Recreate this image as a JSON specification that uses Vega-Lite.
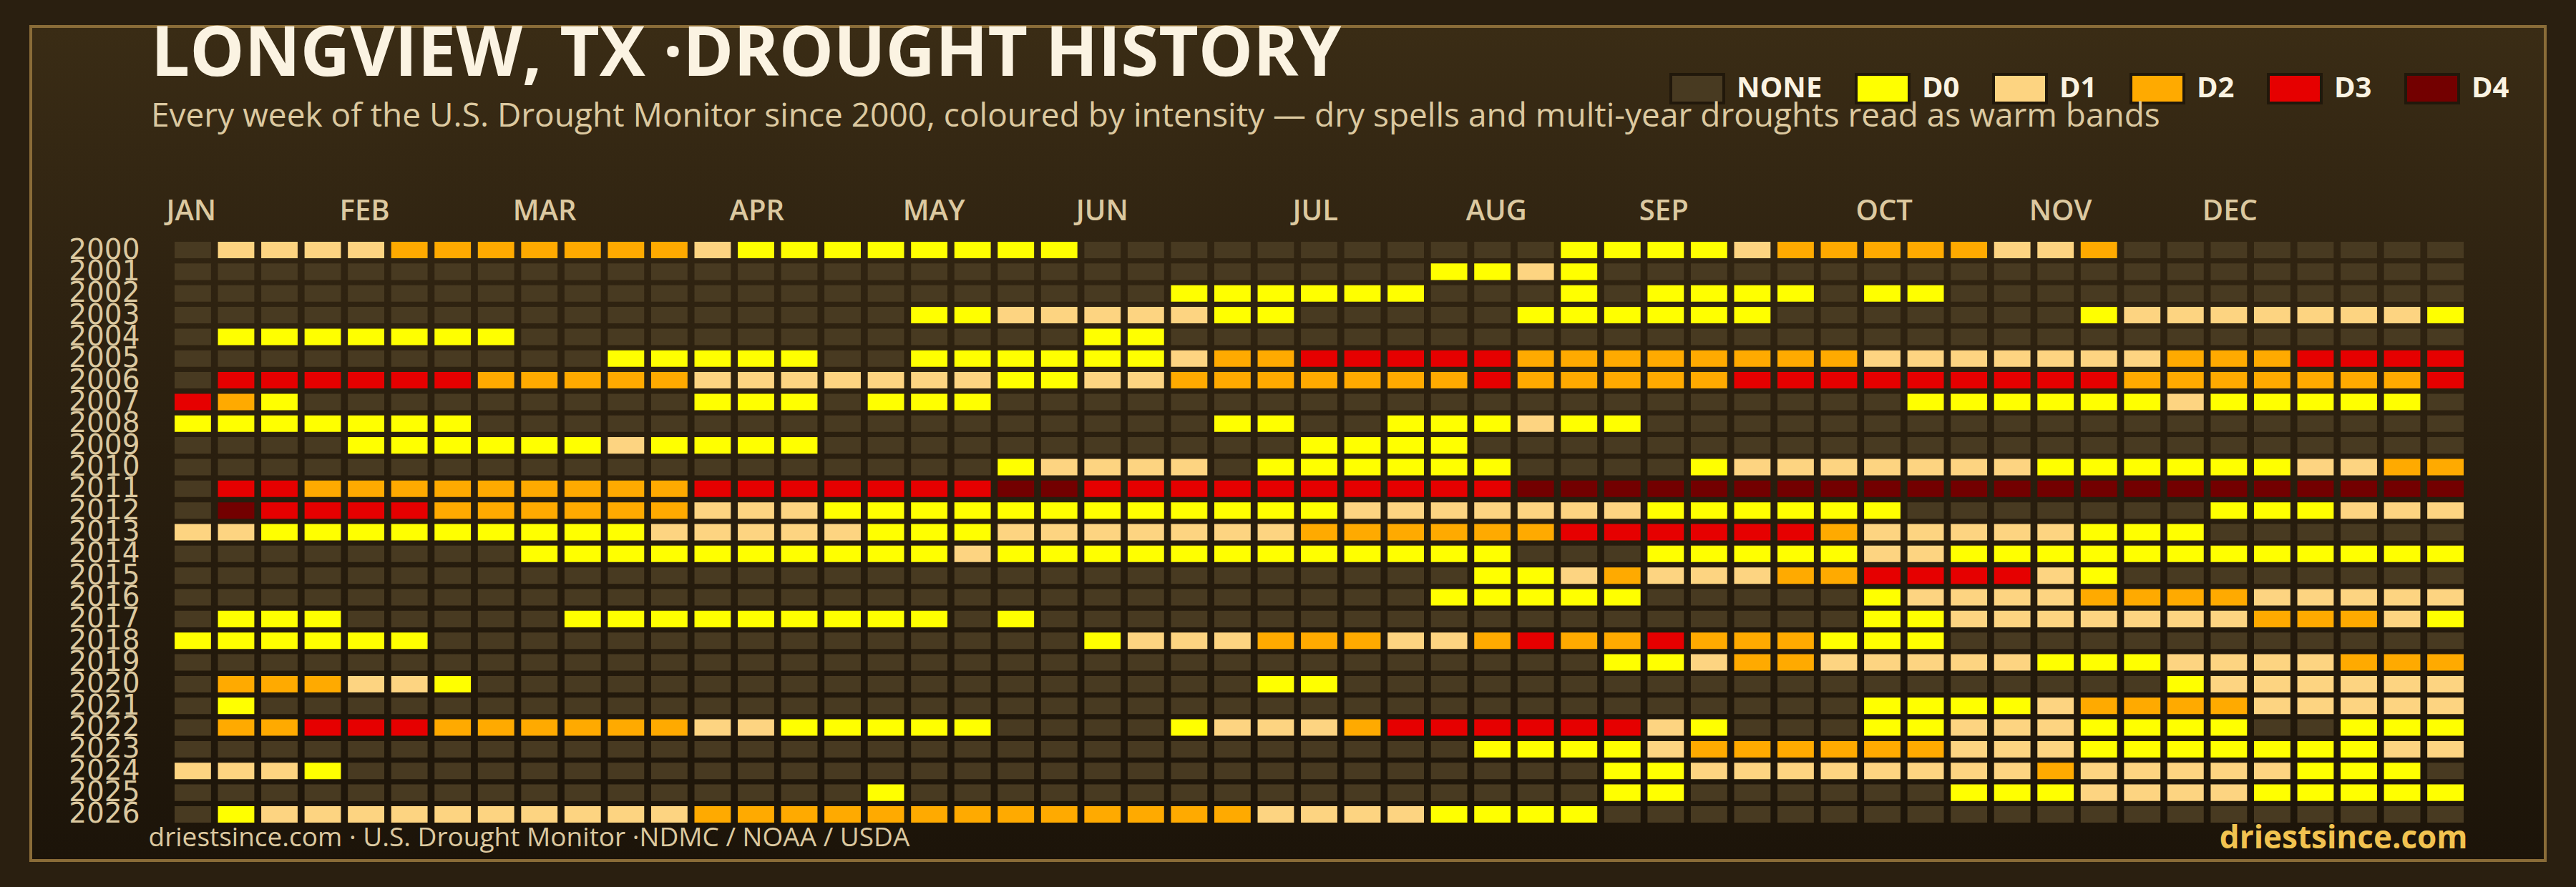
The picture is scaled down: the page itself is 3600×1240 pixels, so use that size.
{
"$schema": "https://vega.github.io/schema/vega-lite/v6.json",
"width": 3514,
"height": 1166,
"autosize": {"type": "none"},
"padding": {"left": 43, "top": 37, "right": 43, "bottom": 37},
"background": "#2a1f10",
"view": {"fill": {"gradient": "linear", "x1": 0, "y1": 0, "x2": 0, "y2": 1, "stops": [{"offset": 0, "color": "#3a2c15"}, {"offset": 0.3, "color": "#2f2311"}, {"offset": 1, "color": "#1c1409"}]}, "stroke": "#8a6c38", "strokeWidth": 4},
"title": {"text": "LONGVIEW, TX ·DROUGHT HISTORY", "subtitle": "Every week of the U.S. Drought Monitor since 2000, coloured by intensity — dry spells and multi-year droughts read as warm bands", "anchor": "start", "frame": "group", "orient": "top", "offset": -150, "dx": 168, "font": "Open Sans", "fontSize": 96, "fontWeight": "bold", "color": "#fbf3e2", "subtitleFont": "Open Sans", "subtitleFontSize": 46, "subtitleFontWeight": 500, "subtitleColor": "#dcc9a0", "subtitlePadding": 15},
"data": {"values": [
{"y":2000,"w":0,"d":"NONE"},{"y":2000,"w":1,"d":"D1"},{"y":2000,"w":2,"d":"D1"},{"y":2000,"w":3,"d":"D1"},{"y":2000,"w":4,"d":"D1"},{"y":2000,"w":5,"d":"D2"},{"y":2000,"w":6,"d":"D2"},{"y":2000,"w":7,"d":"D2"},{"y":2000,"w":8,"d":"D2"},{"y":2000,"w":9,"d":"D2"},{"y":2000,"w":10,"d":"D2"},{"y":2000,"w":11,"d":"D2"},{"y":2000,"w":12,"d":"D1"},{"y":2000,"w":13,"d":"D0"},{"y":2000,"w":14,"d":"D0"},{"y":2000,"w":15,"d":"D0"},{"y":2000,"w":16,"d":"D0"},{"y":2000,"w":17,"d":"D0"},{"y":2000,"w":18,"d":"D0"},{"y":2000,"w":19,"d":"D0"},{"y":2000,"w":20,"d":"D0"},{"y":2000,"w":21,"d":"NONE"},{"y":2000,"w":22,"d":"NONE"},{"y":2000,"w":23,"d":"NONE"},{"y":2000,"w":24,"d":"NONE"},{"y":2000,"w":25,"d":"NONE"},{"y":2000,"w":26,"d":"NONE"},{"y":2000,"w":27,"d":"NONE"},{"y":2000,"w":28,"d":"NONE"},{"y":2000,"w":29,"d":"NONE"},{"y":2000,"w":30,"d":"NONE"},{"y":2000,"w":31,"d":"NONE"},{"y":2000,"w":32,"d":"D0"},{"y":2000,"w":33,"d":"D0"},{"y":2000,"w":34,"d":"D0"},{"y":2000,"w":35,"d":"D0"},{"y":2000,"w":36,"d":"D1"},{"y":2000,"w":37,"d":"D2"},{"y":2000,"w":38,"d":"D2"},{"y":2000,"w":39,"d":"D2"},{"y":2000,"w":40,"d":"D2"},{"y":2000,"w":41,"d":"D2"},{"y":2000,"w":42,"d":"D1"},{"y":2000,"w":43,"d":"D1"},{"y":2000,"w":44,"d":"D2"},{"y":2000,"w":45,"d":"NONE"},{"y":2000,"w":46,"d":"NONE"},{"y":2000,"w":47,"d":"NONE"},{"y":2000,"w":48,"d":"NONE"},{"y":2000,"w":49,"d":"NONE"},{"y":2000,"w":50,"d":"NONE"},{"y":2000,"w":51,"d":"NONE"},{"y":2000,"w":52,"d":"NONE"},
{"y":2001,"w":0,"d":"NONE"},{"y":2001,"w":1,"d":"NONE"},{"y":2001,"w":2,"d":"NONE"},{"y":2001,"w":3,"d":"NONE"},{"y":2001,"w":4,"d":"NONE"},{"y":2001,"w":5,"d":"NONE"},{"y":2001,"w":6,"d":"NONE"},{"y":2001,"w":7,"d":"NONE"},{"y":2001,"w":8,"d":"NONE"},{"y":2001,"w":9,"d":"NONE"},{"y":2001,"w":10,"d":"NONE"},{"y":2001,"w":11,"d":"NONE"},{"y":2001,"w":12,"d":"NONE"},{"y":2001,"w":13,"d":"NONE"},{"y":2001,"w":14,"d":"NONE"},{"y":2001,"w":15,"d":"NONE"},{"y":2001,"w":16,"d":"NONE"},{"y":2001,"w":17,"d":"NONE"},{"y":2001,"w":18,"d":"NONE"},{"y":2001,"w":19,"d":"NONE"},{"y":2001,"w":20,"d":"NONE"},{"y":2001,"w":21,"d":"NONE"},{"y":2001,"w":22,"d":"NONE"},{"y":2001,"w":23,"d":"NONE"},{"y":2001,"w":24,"d":"NONE"},{"y":2001,"w":25,"d":"NONE"},{"y":2001,"w":26,"d":"NONE"},{"y":2001,"w":27,"d":"NONE"},{"y":2001,"w":28,"d":"NONE"},{"y":2001,"w":29,"d":"D0"},{"y":2001,"w":30,"d":"D0"},{"y":2001,"w":31,"d":"D1"},{"y":2001,"w":32,"d":"D0"},{"y":2001,"w":33,"d":"NONE"},{"y":2001,"w":34,"d":"NONE"},{"y":2001,"w":35,"d":"NONE"},{"y":2001,"w":36,"d":"NONE"},{"y":2001,"w":37,"d":"NONE"},{"y":2001,"w":38,"d":"NONE"},{"y":2001,"w":39,"d":"NONE"},{"y":2001,"w":40,"d":"NONE"},{"y":2001,"w":41,"d":"NONE"},{"y":2001,"w":42,"d":"NONE"},{"y":2001,"w":43,"d":"NONE"},{"y":2001,"w":44,"d":"NONE"},{"y":2001,"w":45,"d":"NONE"},{"y":2001,"w":46,"d":"NONE"},{"y":2001,"w":47,"d":"NONE"},{"y":2001,"w":48,"d":"NONE"},{"y":2001,"w":49,"d":"NONE"},{"y":2001,"w":50,"d":"NONE"},{"y":2001,"w":51,"d":"NONE"},{"y":2001,"w":52,"d":"NONE"},
{"y":2002,"w":0,"d":"NONE"},{"y":2002,"w":1,"d":"NONE"},{"y":2002,"w":2,"d":"NONE"},{"y":2002,"w":3,"d":"NONE"},{"y":2002,"w":4,"d":"NONE"},{"y":2002,"w":5,"d":"NONE"},{"y":2002,"w":6,"d":"NONE"},{"y":2002,"w":7,"d":"NONE"},{"y":2002,"w":8,"d":"NONE"},{"y":2002,"w":9,"d":"NONE"},{"y":2002,"w":10,"d":"NONE"},{"y":2002,"w":11,"d":"NONE"},{"y":2002,"w":12,"d":"NONE"},{"y":2002,"w":13,"d":"NONE"},{"y":2002,"w":14,"d":"NONE"},{"y":2002,"w":15,"d":"NONE"},{"y":2002,"w":16,"d":"NONE"},{"y":2002,"w":17,"d":"NONE"},{"y":2002,"w":18,"d":"NONE"},{"y":2002,"w":19,"d":"NONE"},{"y":2002,"w":20,"d":"NONE"},{"y":2002,"w":21,"d":"NONE"},{"y":2002,"w":22,"d":"NONE"},{"y":2002,"w":23,"d":"D0"},{"y":2002,"w":24,"d":"D0"},{"y":2002,"w":25,"d":"D0"},{"y":2002,"w":26,"d":"D0"},{"y":2002,"w":27,"d":"D0"},{"y":2002,"w":28,"d":"D0"},{"y":2002,"w":29,"d":"NONE"},{"y":2002,"w":30,"d":"NONE"},{"y":2002,"w":31,"d":"NONE"},{"y":2002,"w":32,"d":"D0"},{"y":2002,"w":33,"d":"NONE"},{"y":2002,"w":34,"d":"D0"},{"y":2002,"w":35,"d":"D0"},{"y":2002,"w":36,"d":"D0"},{"y":2002,"w":37,"d":"D0"},{"y":2002,"w":38,"d":"NONE"},{"y":2002,"w":39,"d":"D0"},{"y":2002,"w":40,"d":"D0"},{"y":2002,"w":41,"d":"NONE"},{"y":2002,"w":42,"d":"NONE"},{"y":2002,"w":43,"d":"NONE"},{"y":2002,"w":44,"d":"NONE"},{"y":2002,"w":45,"d":"NONE"},{"y":2002,"w":46,"d":"NONE"},{"y":2002,"w":47,"d":"NONE"},{"y":2002,"w":48,"d":"NONE"},{"y":2002,"w":49,"d":"NONE"},{"y":2002,"w":50,"d":"NONE"},{"y":2002,"w":51,"d":"NONE"},{"y":2002,"w":52,"d":"NONE"},
{"y":2003,"w":0,"d":"NONE"},{"y":2003,"w":1,"d":"NONE"},{"y":2003,"w":2,"d":"NONE"},{"y":2003,"w":3,"d":"NONE"},{"y":2003,"w":4,"d":"NONE"},{"y":2003,"w":5,"d":"NONE"},{"y":2003,"w":6,"d":"NONE"},{"y":2003,"w":7,"d":"NONE"},{"y":2003,"w":8,"d":"NONE"},{"y":2003,"w":9,"d":"NONE"},{"y":2003,"w":10,"d":"NONE"},{"y":2003,"w":11,"d":"NONE"},{"y":2003,"w":12,"d":"NONE"},{"y":2003,"w":13,"d":"NONE"},{"y":2003,"w":14,"d":"NONE"},{"y":2003,"w":15,"d":"NONE"},{"y":2003,"w":16,"d":"NONE"},{"y":2003,"w":17,"d":"D0"},{"y":2003,"w":18,"d":"D0"},{"y":2003,"w":19,"d":"D1"},{"y":2003,"w":20,"d":"D1"},{"y":2003,"w":21,"d":"D1"},{"y":2003,"w":22,"d":"D1"},{"y":2003,"w":23,"d":"D1"},{"y":2003,"w":24,"d":"D0"},{"y":2003,"w":25,"d":"D0"},{"y":2003,"w":26,"d":"NONE"},{"y":2003,"w":27,"d":"NONE"},{"y":2003,"w":28,"d":"NONE"},{"y":2003,"w":29,"d":"NONE"},{"y":2003,"w":30,"d":"NONE"},{"y":2003,"w":31,"d":"D0"},{"y":2003,"w":32,"d":"D0"},{"y":2003,"w":33,"d":"D0"},{"y":2003,"w":34,"d":"D0"},{"y":2003,"w":35,"d":"D0"},{"y":2003,"w":36,"d":"D0"},{"y":2003,"w":37,"d":"NONE"},{"y":2003,"w":38,"d":"NONE"},{"y":2003,"w":39,"d":"NONE"},{"y":2003,"w":40,"d":"NONE"},{"y":2003,"w":41,"d":"NONE"},{"y":2003,"w":42,"d":"NONE"},{"y":2003,"w":43,"d":"NONE"},{"y":2003,"w":44,"d":"D0"},{"y":2003,"w":45,"d":"D1"},{"y":2003,"w":46,"d":"D1"},{"y":2003,"w":47,"d":"D1"},{"y":2003,"w":48,"d":"D1"},{"y":2003,"w":49,"d":"D1"},{"y":2003,"w":50,"d":"D1"},{"y":2003,"w":51,"d":"D1"},{"y":2003,"w":52,"d":"D0"},
{"y":2004,"w":0,"d":"NONE"},{"y":2004,"w":1,"d":"D0"},{"y":2004,"w":2,"d":"D0"},{"y":2004,"w":3,"d":"D0"},{"y":2004,"w":4,"d":"D0"},{"y":2004,"w":5,"d":"D0"},{"y":2004,"w":6,"d":"D0"},{"y":2004,"w":7,"d":"D0"},{"y":2004,"w":8,"d":"NONE"},{"y":2004,"w":9,"d":"NONE"},{"y":2004,"w":10,"d":"NONE"},{"y":2004,"w":11,"d":"NONE"},{"y":2004,"w":12,"d":"NONE"},{"y":2004,"w":13,"d":"NONE"},{"y":2004,"w":14,"d":"NONE"},{"y":2004,"w":15,"d":"NONE"},{"y":2004,"w":16,"d":"NONE"},{"y":2004,"w":17,"d":"NONE"},{"y":2004,"w":18,"d":"NONE"},{"y":2004,"w":19,"d":"NONE"},{"y":2004,"w":20,"d":"NONE"},{"y":2004,"w":21,"d":"D0"},{"y":2004,"w":22,"d":"D0"},{"y":2004,"w":23,"d":"NONE"},{"y":2004,"w":24,"d":"NONE"},{"y":2004,"w":25,"d":"NONE"},{"y":2004,"w":26,"d":"NONE"},{"y":2004,"w":27,"d":"NONE"},{"y":2004,"w":28,"d":"NONE"},{"y":2004,"w":29,"d":"NONE"},{"y":2004,"w":30,"d":"NONE"},{"y":2004,"w":31,"d":"NONE"},{"y":2004,"w":32,"d":"NONE"},{"y":2004,"w":33,"d":"NONE"},{"y":2004,"w":34,"d":"NONE"},{"y":2004,"w":35,"d":"NONE"},{"y":2004,"w":36,"d":"NONE"},{"y":2004,"w":37,"d":"NONE"},{"y":2004,"w":38,"d":"NONE"},{"y":2004,"w":39,"d":"NONE"},{"y":2004,"w":40,"d":"NONE"},{"y":2004,"w":41,"d":"NONE"},{"y":2004,"w":42,"d":"NONE"},{"y":2004,"w":43,"d":"NONE"},{"y":2004,"w":44,"d":"NONE"},{"y":2004,"w":45,"d":"NONE"},{"y":2004,"w":46,"d":"NONE"},{"y":2004,"w":47,"d":"NONE"},{"y":2004,"w":48,"d":"NONE"},{"y":2004,"w":49,"d":"NONE"},{"y":2004,"w":50,"d":"NONE"},{"y":2004,"w":51,"d":"NONE"},{"y":2004,"w":52,"d":"NONE"},
{"y":2005,"w":0,"d":"NONE"},{"y":2005,"w":1,"d":"NONE"},{"y":2005,"w":2,"d":"NONE"},{"y":2005,"w":3,"d":"NONE"},{"y":2005,"w":4,"d":"NONE"},{"y":2005,"w":5,"d":"NONE"},{"y":2005,"w":6,"d":"NONE"},{"y":2005,"w":7,"d":"NONE"},{"y":2005,"w":8,"d":"NONE"},{"y":2005,"w":9,"d":"NONE"},{"y":2005,"w":10,"d":"D0"},{"y":2005,"w":11,"d":"D0"},{"y":2005,"w":12,"d":"D0"},{"y":2005,"w":13,"d":"D0"},{"y":2005,"w":14,"d":"D0"},{"y":2005,"w":15,"d":"NONE"},{"y":2005,"w":16,"d":"NONE"},{"y":2005,"w":17,"d":"D0"},{"y":2005,"w":18,"d":"D0"},{"y":2005,"w":19,"d":"D0"},{"y":2005,"w":20,"d":"D0"},{"y":2005,"w":21,"d":"D0"},{"y":2005,"w":22,"d":"D0"},{"y":2005,"w":23,"d":"D1"},{"y":2005,"w":24,"d":"D2"},{"y":2005,"w":25,"d":"D2"},{"y":2005,"w":26,"d":"D3"},{"y":2005,"w":27,"d":"D3"},{"y":2005,"w":28,"d":"D3"},{"y":2005,"w":29,"d":"D3"},{"y":2005,"w":30,"d":"D3"},{"y":2005,"w":31,"d":"D2"},{"y":2005,"w":32,"d":"D2"},{"y":2005,"w":33,"d":"D2"},{"y":2005,"w":34,"d":"D2"},{"y":2005,"w":35,"d":"D2"},{"y":2005,"w":36,"d":"D2"},{"y":2005,"w":37,"d":"D2"},{"y":2005,"w":38,"d":"D2"},{"y":2005,"w":39,"d":"D1"},{"y":2005,"w":40,"d":"D1"},{"y":2005,"w":41,"d":"D1"},{"y":2005,"w":42,"d":"D1"},{"y":2005,"w":43,"d":"D1"},{"y":2005,"w":44,"d":"D1"},{"y":2005,"w":45,"d":"D1"},{"y":2005,"w":46,"d":"D2"},{"y":2005,"w":47,"d":"D2"},{"y":2005,"w":48,"d":"D2"},{"y":2005,"w":49,"d":"D3"},{"y":2005,"w":50,"d":"D3"},{"y":2005,"w":51,"d":"D3"},{"y":2005,"w":52,"d":"D3"},
{"y":2006,"w":0,"d":"NONE"},{"y":2006,"w":1,"d":"D3"},{"y":2006,"w":2,"d":"D3"},{"y":2006,"w":3,"d":"D3"},{"y":2006,"w":4,"d":"D3"},{"y":2006,"w":5,"d":"D3"},{"y":2006,"w":6,"d":"D3"},{"y":2006,"w":7,"d":"D2"},{"y":2006,"w":8,"d":"D2"},{"y":2006,"w":9,"d":"D2"},{"y":2006,"w":10,"d":"D2"},{"y":2006,"w":11,"d":"D2"},{"y":2006,"w":12,"d":"D1"},{"y":2006,"w":13,"d":"D1"},{"y":2006,"w":14,"d":"D1"},{"y":2006,"w":15,"d":"D1"},{"y":2006,"w":16,"d":"D1"},{"y":2006,"w":17,"d":"D1"},{"y":2006,"w":18,"d":"D1"},{"y":2006,"w":19,"d":"D0"},{"y":2006,"w":20,"d":"D0"},{"y":2006,"w":21,"d":"D1"},{"y":2006,"w":22,"d":"D1"},{"y":2006,"w":23,"d":"D2"},{"y":2006,"w":24,"d":"D2"},{"y":2006,"w":25,"d":"D2"},{"y":2006,"w":26,"d":"D2"},{"y":2006,"w":27,"d":"D2"},{"y":2006,"w":28,"d":"D2"},{"y":2006,"w":29,"d":"D2"},{"y":2006,"w":30,"d":"D3"},{"y":2006,"w":31,"d":"D2"},{"y":2006,"w":32,"d":"D2"},{"y":2006,"w":33,"d":"D2"},{"y":2006,"w":34,"d":"D2"},{"y":2006,"w":35,"d":"D2"},{"y":2006,"w":36,"d":"D3"},{"y":2006,"w":37,"d":"D3"},{"y":2006,"w":38,"d":"D3"},{"y":2006,"w":39,"d":"D3"},{"y":2006,"w":40,"d":"D3"},{"y":2006,"w":41,"d":"D3"},{"y":2006,"w":42,"d":"D3"},{"y":2006,"w":43,"d":"D3"},{"y":2006,"w":44,"d":"D3"},{"y":2006,"w":45,"d":"D2"},{"y":2006,"w":46,"d":"D2"},{"y":2006,"w":47,"d":"D2"},{"y":2006,"w":48,"d":"D2"},{"y":2006,"w":49,"d":"D2"},{"y":2006,"w":50,"d":"D2"},{"y":2006,"w":51,"d":"D2"},{"y":2006,"w":52,"d":"D3"},
{"y":2007,"w":0,"d":"D3"},{"y":2007,"w":1,"d":"D2"},{"y":2007,"w":2,"d":"D0"},{"y":2007,"w":3,"d":"NONE"},{"y":2007,"w":4,"d":"NONE"},{"y":2007,"w":5,"d":"NONE"},{"y":2007,"w":6,"d":"NONE"},{"y":2007,"w":7,"d":"NONE"},{"y":2007,"w":8,"d":"NONE"},{"y":2007,"w":9,"d":"NONE"},{"y":2007,"w":10,"d":"NONE"},{"y":2007,"w":11,"d":"NONE"},{"y":2007,"w":12,"d":"D0"},{"y":2007,"w":13,"d":"D0"},{"y":2007,"w":14,"d":"D0"},{"y":2007,"w":15,"d":"NONE"},{"y":2007,"w":16,"d":"D0"},{"y":2007,"w":17,"d":"D0"},{"y":2007,"w":18,"d":"D0"},{"y":2007,"w":19,"d":"NONE"},{"y":2007,"w":20,"d":"NONE"},{"y":2007,"w":21,"d":"NONE"},{"y":2007,"w":22,"d":"NONE"},{"y":2007,"w":23,"d":"NONE"},{"y":2007,"w":24,"d":"NONE"},{"y":2007,"w":25,"d":"NONE"},{"y":2007,"w":26,"d":"NONE"},{"y":2007,"w":27,"d":"NONE"},{"y":2007,"w":28,"d":"NONE"},{"y":2007,"w":29,"d":"NONE"},{"y":2007,"w":30,"d":"NONE"},{"y":2007,"w":31,"d":"NONE"},{"y":2007,"w":32,"d":"NONE"},{"y":2007,"w":33,"d":"NONE"},{"y":2007,"w":34,"d":"NONE"},{"y":2007,"w":35,"d":"NONE"},{"y":2007,"w":36,"d":"NONE"},{"y":2007,"w":37,"d":"NONE"},{"y":2007,"w":38,"d":"NONE"},{"y":2007,"w":39,"d":"NONE"},{"y":2007,"w":40,"d":"D0"},{"y":2007,"w":41,"d":"D0"},{"y":2007,"w":42,"d":"D0"},{"y":2007,"w":43,"d":"D0"},{"y":2007,"w":44,"d":"D0"},{"y":2007,"w":45,"d":"D0"},{"y":2007,"w":46,"d":"D1"},{"y":2007,"w":47,"d":"D0"},{"y":2007,"w":48,"d":"D0"},{"y":2007,"w":49,"d":"D0"},{"y":2007,"w":50,"d":"D0"},{"y":2007,"w":51,"d":"D0"},{"y":2007,"w":52,"d":"NONE"},
{"y":2008,"w":0,"d":"D0"},{"y":2008,"w":1,"d":"D0"},{"y":2008,"w":2,"d":"D0"},{"y":2008,"w":3,"d":"D0"},{"y":2008,"w":4,"d":"D0"},{"y":2008,"w":5,"d":"D0"},{"y":2008,"w":6,"d":"D0"},{"y":2008,"w":7,"d":"NONE"},{"y":2008,"w":8,"d":"NONE"},{"y":2008,"w":9,"d":"NONE"},{"y":2008,"w":10,"d":"NONE"},{"y":2008,"w":11,"d":"NONE"},{"y":2008,"w":12,"d":"NONE"},{"y":2008,"w":13,"d":"NONE"},{"y":2008,"w":14,"d":"NONE"},{"y":2008,"w":15,"d":"NONE"},{"y":2008,"w":16,"d":"NONE"},{"y":2008,"w":17,"d":"NONE"},{"y":2008,"w":18,"d":"NONE"},{"y":2008,"w":19,"d":"NONE"},{"y":2008,"w":20,"d":"NONE"},{"y":2008,"w":21,"d":"NONE"},{"y":2008,"w":22,"d":"NONE"},{"y":2008,"w":23,"d":"NONE"},{"y":2008,"w":24,"d":"D0"},{"y":2008,"w":25,"d":"D0"},{"y":2008,"w":26,"d":"NONE"},{"y":2008,"w":27,"d":"NONE"},{"y":2008,"w":28,"d":"D0"},{"y":2008,"w":29,"d":"D0"},{"y":2008,"w":30,"d":"D0"},{"y":2008,"w":31,"d":"D1"},{"y":2008,"w":32,"d":"D0"},{"y":2008,"w":33,"d":"D0"},{"y":2008,"w":34,"d":"NONE"},{"y":2008,"w":35,"d":"NONE"},{"y":2008,"w":36,"d":"NONE"},{"y":2008,"w":37,"d":"NONE"},{"y":2008,"w":38,"d":"NONE"},{"y":2008,"w":39,"d":"NONE"},{"y":2008,"w":40,"d":"NONE"},{"y":2008,"w":41,"d":"NONE"},{"y":2008,"w":42,"d":"NONE"},{"y":2008,"w":43,"d":"NONE"},{"y":2008,"w":44,"d":"NONE"},{"y":2008,"w":45,"d":"NONE"},{"y":2008,"w":46,"d":"NONE"},{"y":2008,"w":47,"d":"NONE"},{"y":2008,"w":48,"d":"NONE"},{"y":2008,"w":49,"d":"NONE"},{"y":2008,"w":50,"d":"NONE"},{"y":2008,"w":51,"d":"NONE"},{"y":2008,"w":52,"d":"NONE"},
{"y":2009,"w":0,"d":"NONE"},{"y":2009,"w":1,"d":"NONE"},{"y":2009,"w":2,"d":"NONE"},{"y":2009,"w":3,"d":"NONE"},{"y":2009,"w":4,"d":"D0"},{"y":2009,"w":5,"d":"D0"},{"y":2009,"w":6,"d":"D0"},{"y":2009,"w":7,"d":"D0"},{"y":2009,"w":8,"d":"D0"},{"y":2009,"w":9,"d":"D0"},{"y":2009,"w":10,"d":"D1"},{"y":2009,"w":11,"d":"D0"},{"y":2009,"w":12,"d":"D0"},{"y":2009,"w":13,"d":"D0"},{"y":2009,"w":14,"d":"D0"},{"y":2009,"w":15,"d":"NONE"},{"y":2009,"w":16,"d":"NONE"},{"y":2009,"w":17,"d":"NONE"},{"y":2009,"w":18,"d":"NONE"},{"y":2009,"w":19,"d":"NONE"},{"y":2009,"w":20,"d":"NONE"},{"y":2009,"w":21,"d":"NONE"},{"y":2009,"w":22,"d":"NONE"},{"y":2009,"w":23,"d":"NONE"},{"y":2009,"w":24,"d":"NONE"},{"y":2009,"w":25,"d":"NONE"},{"y":2009,"w":26,"d":"D0"},{"y":2009,"w":27,"d":"D0"},{"y":2009,"w":28,"d":"D0"},{"y":2009,"w":29,"d":"D0"},{"y":2009,"w":30,"d":"NONE"},{"y":2009,"w":31,"d":"NONE"},{"y":2009,"w":32,"d":"NONE"},{"y":2009,"w":33,"d":"NONE"},{"y":2009,"w":34,"d":"NONE"},{"y":2009,"w":35,"d":"NONE"},{"y":2009,"w":36,"d":"NONE"},{"y":2009,"w":37,"d":"NONE"},{"y":2009,"w":38,"d":"NONE"},{"y":2009,"w":39,"d":"NONE"},{"y":2009,"w":40,"d":"NONE"},{"y":2009,"w":41,"d":"NONE"},{"y":2009,"w":42,"d":"NONE"},{"y":2009,"w":43,"d":"NONE"},{"y":2009,"w":44,"d":"NONE"},{"y":2009,"w":45,"d":"NONE"},{"y":2009,"w":46,"d":"NONE"},{"y":2009,"w":47,"d":"NONE"},{"y":2009,"w":48,"d":"NONE"},{"y":2009,"w":49,"d":"NONE"},{"y":2009,"w":50,"d":"NONE"},{"y":2009,"w":51,"d":"NONE"},{"y":2009,"w":52,"d":"NONE"},
{"y":2010,"w":0,"d":"NONE"},{"y":2010,"w":1,"d":"NONE"},{"y":2010,"w":2,"d":"NONE"},{"y":2010,"w":3,"d":"NONE"},{"y":2010,"w":4,"d":"NONE"},{"y":2010,"w":5,"d":"NONE"},{"y":2010,"w":6,"d":"NONE"},{"y":2010,"w":7,"d":"NONE"},{"y":2010,"w":8,"d":"NONE"},{"y":2010,"w":9,"d":"NONE"},{"y":2010,"w":10,"d":"NONE"},{"y":2010,"w":11,"d":"NONE"},{"y":2010,"w":12,"d":"NONE"},{"y":2010,"w":13,"d":"NONE"},{"y":2010,"w":14,"d":"NONE"},{"y":2010,"w":15,"d":"NONE"},{"y":2010,"w":16,"d":"NONE"},{"y":2010,"w":17,"d":"NONE"},{"y":2010,"w":18,"d":"NONE"},{"y":2010,"w":19,"d":"D0"},{"y":2010,"w":20,"d":"D1"},{"y":2010,"w":21,"d":"D1"},{"y":2010,"w":22,"d":"D1"},{"y":2010,"w":23,"d":"D1"},{"y":2010,"w":24,"d":"NONE"},{"y":2010,"w":25,"d":"D0"},{"y":2010,"w":26,"d":"D0"},{"y":2010,"w":27,"d":"D0"},{"y":2010,"w":28,"d":"D0"},{"y":2010,"w":29,"d":"D0"},{"y":2010,"w":30,"d":"D0"},{"y":2010,"w":31,"d":"NONE"},{"y":2010,"w":32,"d":"NONE"},{"y":2010,"w":33,"d":"NONE"},{"y":2010,"w":34,"d":"NONE"},{"y":2010,"w":35,"d":"D0"},{"y":2010,"w":36,"d":"D1"},{"y":2010,"w":37,"d":"D1"},{"y":2010,"w":38,"d":"D1"},{"y":2010,"w":39,"d":"D1"},{"y":2010,"w":40,"d":"D1"},{"y":2010,"w":41,"d":"D1"},{"y":2010,"w":42,"d":"D1"},{"y":2010,"w":43,"d":"D0"},{"y":2010,"w":44,"d":"D0"},{"y":2010,"w":45,"d":"D0"},{"y":2010,"w":46,"d":"D0"},{"y":2010,"w":47,"d":"D0"},{"y":2010,"w":48,"d":"D0"},{"y":2010,"w":49,"d":"D1"},{"y":2010,"w":50,"d":"D1"},{"y":2010,"w":51,"d":"D2"},{"y":2010,"w":52,"d":"D2"},
{"y":2011,"w":0,"d":"NONE"},{"y":2011,"w":1,"d":"D3"},{"y":2011,"w":2,"d":"D3"},{"y":2011,"w":3,"d":"D2"},{"y":2011,"w":4,"d":"D2"},{"y":2011,"w":5,"d":"D2"},{"y":2011,"w":6,"d":"D2"},{"y":2011,"w":7,"d":"D2"},{"y":2011,"w":8,"d":"D2"},{"y":2011,"w":9,"d":"D2"},{"y":2011,"w":10,"d":"D2"},{"y":2011,"w":11,"d":"D2"},{"y":2011,"w":12,"d":"D3"},{"y":2011,"w":13,"d":"D3"},{"y":2011,"w":14,"d":"D3"},{"y":2011,"w":15,"d":"D3"},{"y":2011,"w":16,"d":"D3"},{"y":2011,"w":17,"d":"D3"},{"y":2011,"w":18,"d":"D3"},{"y":2011,"w":19,"d":"D4"},{"y":2011,"w":20,"d":"D4"},{"y":2011,"w":21,"d":"D3"},{"y":2011,"w":22,"d":"D3"},{"y":2011,"w":23,"d":"D3"},{"y":2011,"w":24,"d":"D3"},{"y":2011,"w":25,"d":"D3"},{"y":2011,"w":26,"d":"D3"},{"y":2011,"w":27,"d":"D3"},{"y":2011,"w":28,"d":"D3"},{"y":2011,"w":29,"d":"D3"},{"y":2011,"w":30,"d":"D3"},{"y":2011,"w":31,"d":"D4"},{"y":2011,"w":32,"d":"D4"},{"y":2011,"w":33,"d":"D4"},{"y":2011,"w":34,"d":"D4"},{"y":2011,"w":35,"d":"D4"},{"y":2011,"w":36,"d":"D4"},{"y":2011,"w":37,"d":"D4"},{"y":2011,"w":38,"d":"D4"},{"y":2011,"w":39,"d":"D4"},{"y":2011,"w":40,"d":"D4"},{"y":2011,"w":41,"d":"D4"},{"y":2011,"w":42,"d":"D4"},{"y":2011,"w":43,"d":"D4"},{"y":2011,"w":44,"d":"D4"},{"y":2011,"w":45,"d":"D4"},{"y":2011,"w":46,"d":"D4"},{"y":2011,"w":47,"d":"D4"},{"y":2011,"w":48,"d":"D4"},{"y":2011,"w":49,"d":"D4"},{"y":2011,"w":50,"d":"D4"},{"y":2011,"w":51,"d":"D4"},{"y":2011,"w":52,"d":"D4"},
{"y":2012,"w":0,"d":"NONE"},{"y":2012,"w":1,"d":"D4"},{"y":2012,"w":2,"d":"D3"},{"y":2012,"w":3,"d":"D3"},{"y":2012,"w":4,"d":"D3"},{"y":2012,"w":5,"d":"D3"},{"y":2012,"w":6,"d":"D2"},{"y":2012,"w":7,"d":"D2"},{"y":2012,"w":8,"d":"D2"},{"y":2012,"w":9,"d":"D2"},{"y":2012,"w":10,"d":"D2"},{"y":2012,"w":11,"d":"D2"},{"y":2012,"w":12,"d":"D1"},{"y":2012,"w":13,"d":"D1"},{"y":2012,"w":14,"d":"D1"},{"y":2012,"w":15,"d":"D0"},{"y":2012,"w":16,"d":"D0"},{"y":2012,"w":17,"d":"D0"},{"y":2012,"w":18,"d":"D0"},{"y":2012,"w":19,"d":"D0"},{"y":2012,"w":20,"d":"D0"},{"y":2012,"w":21,"d":"D0"},{"y":2012,"w":22,"d":"D0"},{"y":2012,"w":23,"d":"D0"},{"y":2012,"w":24,"d":"D0"},{"y":2012,"w":25,"d":"D0"},{"y":2012,"w":26,"d":"D0"},{"y":2012,"w":27,"d":"D1"},{"y":2012,"w":28,"d":"D1"},{"y":2012,"w":29,"d":"D1"},{"y":2012,"w":30,"d":"D1"},{"y":2012,"w":31,"d":"D1"},{"y":2012,"w":32,"d":"D1"},{"y":2012,"w":33,"d":"D1"},{"y":2012,"w":34,"d":"D0"},{"y":2012,"w":35,"d":"D0"},{"y":2012,"w":36,"d":"D0"},{"y":2012,"w":37,"d":"D0"},{"y":2012,"w":38,"d":"D0"},{"y":2012,"w":39,"d":"D0"},{"y":2012,"w":40,"d":"NONE"},{"y":2012,"w":41,"d":"NONE"},{"y":2012,"w":42,"d":"NONE"},{"y":2012,"w":43,"d":"NONE"},{"y":2012,"w":44,"d":"NONE"},{"y":2012,"w":45,"d":"NONE"},{"y":2012,"w":46,"d":"NONE"},{"y":2012,"w":47,"d":"D0"},{"y":2012,"w":48,"d":"D0"},{"y":2012,"w":49,"d":"D0"},{"y":2012,"w":50,"d":"D1"},{"y":2012,"w":51,"d":"D1"},{"y":2012,"w":52,"d":"D1"},
{"y":2013,"w":0,"d":"D1"},{"y":2013,"w":1,"d":"D1"},{"y":2013,"w":2,"d":"D0"},{"y":2013,"w":3,"d":"D0"},{"y":2013,"w":4,"d":"D0"},{"y":2013,"w":5,"d":"D0"},{"y":2013,"w":6,"d":"D0"},{"y":2013,"w":7,"d":"D0"},{"y":2013,"w":8,"d":"D0"},{"y":2013,"w":9,"d":"D0"},{"y":2013,"w":10,"d":"D0"},{"y":2013,"w":11,"d":"D1"},{"y":2013,"w":12,"d":"D1"},{"y":2013,"w":13,"d":"D1"},{"y":2013,"w":14,"d":"D1"},{"y":2013,"w":15,"d":"D1"},{"y":2013,"w":16,"d":"D0"},{"y":2013,"w":17,"d":"D0"},{"y":2013,"w":18,"d":"D0"},{"y":2013,"w":19,"d":"D1"},{"y":2013,"w":20,"d":"D1"},{"y":2013,"w":21,"d":"D1"},{"y":2013,"w":22,"d":"D1"},{"y":2013,"w":23,"d":"D1"},{"y":2013,"w":24,"d":"D1"},{"y":2013,"w":25,"d":"D1"},{"y":2013,"w":26,"d":"D2"},{"y":2013,"w":27,"d":"D2"},{"y":2013,"w":28,"d":"D2"},{"y":2013,"w":29,"d":"D2"},{"y":2013,"w":30,"d":"D2"},{"y":2013,"w":31,"d":"D2"},{"y":2013,"w":32,"d":"D3"},{"y":2013,"w":33,"d":"D3"},{"y":2013,"w":34,"d":"D3"},{"y":2013,"w":35,"d":"D3"},{"y":2013,"w":36,"d":"D3"},{"y":2013,"w":37,"d":"D3"},{"y":2013,"w":38,"d":"D2"},{"y":2013,"w":39,"d":"D1"},{"y":2013,"w":40,"d":"D1"},{"y":2013,"w":41,"d":"D1"},{"y":2013,"w":42,"d":"D1"},{"y":2013,"w":43,"d":"D1"},{"y":2013,"w":44,"d":"D0"},{"y":2013,"w":45,"d":"D0"},{"y":2013,"w":46,"d":"D0"},{"y":2013,"w":47,"d":"NONE"},{"y":2013,"w":48,"d":"NONE"},{"y":2013,"w":49,"d":"NONE"},{"y":2013,"w":50,"d":"NONE"},{"y":2013,"w":51,"d":"NONE"},{"y":2013,"w":52,"d":"NONE"},
{"y":2014,"w":0,"d":"NONE"},{"y":2014,"w":1,"d":"NONE"},{"y":2014,"w":2,"d":"NONE"},{"y":2014,"w":3,"d":"NONE"},{"y":2014,"w":4,"d":"NONE"},{"y":2014,"w":5,"d":"NONE"},{"y":2014,"w":6,"d":"NONE"},{"y":2014,"w":7,"d":"NONE"},{"y":2014,"w":8,"d":"D0"},{"y":2014,"w":9,"d":"D0"},{"y":2014,"w":10,"d":"D0"},{"y":2014,"w":11,"d":"D0"},{"y":2014,"w":12,"d":"D0"},{"y":2014,"w":13,"d":"D0"},{"y":2014,"w":14,"d":"D0"},{"y":2014,"w":15,"d":"D0"},{"y":2014,"w":16,"d":"D0"},{"y":2014,"w":17,"d":"D0"},{"y":2014,"w":18,"d":"D1"},{"y":2014,"w":19,"d":"D0"},{"y":2014,"w":20,"d":"D0"},{"y":2014,"w":21,"d":"D0"},{"y":2014,"w":22,"d":"D0"},{"y":2014,"w":23,"d":"D0"},{"y":2014,"w":24,"d":"D0"},{"y":2014,"w":25,"d":"D0"},{"y":2014,"w":26,"d":"D0"},{"y":2014,"w":27,"d":"D0"},{"y":2014,"w":28,"d":"D0"},{"y":2014,"w":29,"d":"D0"},{"y":2014,"w":30,"d":"D0"},{"y":2014,"w":31,"d":"NONE"},{"y":2014,"w":32,"d":"NONE"},{"y":2014,"w":33,"d":"NONE"},{"y":2014,"w":34,"d":"D0"},{"y":2014,"w":35,"d":"D0"},{"y":2014,"w":36,"d":"D0"},{"y":2014,"w":37,"d":"D0"},{"y":2014,"w":38,"d":"D0"},{"y":2014,"w":39,"d":"D1"},{"y":2014,"w":40,"d":"D1"},{"y":2014,"w":41,"d":"D0"},{"y":2014,"w":42,"d":"D0"},{"y":2014,"w":43,"d":"D0"},{"y":2014,"w":44,"d":"D0"},{"y":2014,"w":45,"d":"D0"},{"y":2014,"w":46,"d":"D0"},{"y":2014,"w":47,"d":"D0"},{"y":2014,"w":48,"d":"D0"},{"y":2014,"w":49,"d":"D0"},{"y":2014,"w":50,"d":"D0"},{"y":2014,"w":51,"d":"D0"},{"y":2014,"w":52,"d":"D0"},
{"y":2015,"w":0,"d":"NONE"},{"y":2015,"w":1,"d":"NONE"},{"y":2015,"w":2,"d":"NONE"},{"y":2015,"w":3,"d":"NONE"},{"y":2015,"w":4,"d":"NONE"},{"y":2015,"w":5,"d":"NONE"},{"y":2015,"w":6,"d":"NONE"},{"y":2015,"w":7,"d":"NONE"},{"y":2015,"w":8,"d":"NONE"},{"y":2015,"w":9,"d":"NONE"},{"y":2015,"w":10,"d":"NONE"},{"y":2015,"w":11,"d":"NONE"},{"y":2015,"w":12,"d":"NONE"},{"y":2015,"w":13,"d":"NONE"},{"y":2015,"w":14,"d":"NONE"},{"y":2015,"w":15,"d":"NONE"},{"y":2015,"w":16,"d":"NONE"},{"y":2015,"w":17,"d":"NONE"},{"y":2015,"w":18,"d":"NONE"},{"y":2015,"w":19,"d":"NONE"},{"y":2015,"w":20,"d":"NONE"},{"y":2015,"w":21,"d":"NONE"},{"y":2015,"w":22,"d":"NONE"},{"y":2015,"w":23,"d":"NONE"},{"y":2015,"w":24,"d":"NONE"},{"y":2015,"w":25,"d":"NONE"},{"y":2015,"w":26,"d":"NONE"},{"y":2015,"w":27,"d":"NONE"},{"y":2015,"w":28,"d":"NONE"},{"y":2015,"w":29,"d":"NONE"},{"y":2015,"w":30,"d":"D0"},{"y":2015,"w":31,"d":"D0"},{"y":2015,"w":32,"d":"D1"},{"y":2015,"w":33,"d":"D2"},{"y":2015,"w":34,"d":"D1"},{"y":2015,"w":35,"d":"D1"},{"y":2015,"w":36,"d":"D1"},{"y":2015,"w":37,"d":"D2"},{"y":2015,"w":38,"d":"D2"},{"y":2015,"w":39,"d":"D3"},{"y":2015,"w":40,"d":"D3"},{"y":2015,"w":41,"d":"D3"},{"y":2015,"w":42,"d":"D3"},{"y":2015,"w":43,"d":"D1"},{"y":2015,"w":44,"d":"D0"},{"y":2015,"w":45,"d":"NONE"},{"y":2015,"w":46,"d":"NONE"},{"y":2015,"w":47,"d":"NONE"},{"y":2015,"w":48,"d":"NONE"},{"y":2015,"w":49,"d":"NONE"},{"y":2015,"w":50,"d":"NONE"},{"y":2015,"w":51,"d":"NONE"},{"y":2015,"w":52,"d":"NONE"},
{"y":2016,"w":0,"d":"NONE"},{"y":2016,"w":1,"d":"NONE"},{"y":2016,"w":2,"d":"NONE"},{"y":2016,"w":3,"d":"NONE"},{"y":2016,"w":4,"d":"NONE"},{"y":2016,"w":5,"d":"NONE"},{"y":2016,"w":6,"d":"NONE"},{"y":2016,"w":7,"d":"NONE"},{"y":2016,"w":8,"d":"NONE"},{"y":2016,"w":9,"d":"NONE"},{"y":2016,"w":10,"d":"NONE"},{"y":2016,"w":11,"d":"NONE"},{"y":2016,"w":12,"d":"NONE"},{"y":2016,"w":13,"d":"NONE"},{"y":2016,"w":14,"d":"NONE"},{"y":2016,"w":15,"d":"NONE"},{"y":2016,"w":16,"d":"NONE"},{"y":2016,"w":17,"d":"NONE"},{"y":2016,"w":18,"d":"NONE"},{"y":2016,"w":19,"d":"NONE"},{"y":2016,"w":20,"d":"NONE"},{"y":2016,"w":21,"d":"NONE"},{"y":2016,"w":22,"d":"NONE"},{"y":2016,"w":23,"d":"NONE"},{"y":2016,"w":24,"d":"NONE"},{"y":2016,"w":25,"d":"NONE"},{"y":2016,"w":26,"d":"NONE"},{"y":2016,"w":27,"d":"NONE"},{"y":2016,"w":28,"d":"NONE"},{"y":2016,"w":29,"d":"D0"},{"y":2016,"w":30,"d":"D0"},{"y":2016,"w":31,"d":"D0"},{"y":2016,"w":32,"d":"D0"},{"y":2016,"w":33,"d":"D0"},{"y":2016,"w":34,"d":"NONE"},{"y":2016,"w":35,"d":"NONE"},{"y":2016,"w":36,"d":"NONE"},{"y":2016,"w":37,"d":"NONE"},{"y":2016,"w":38,"d":"NONE"},{"y":2016,"w":39,"d":"D0"},{"y":2016,"w":40,"d":"D1"},{"y":2016,"w":41,"d":"D1"},{"y":2016,"w":42,"d":"D1"},{"y":2016,"w":43,"d":"D1"},{"y":2016,"w":44,"d":"D2"},{"y":2016,"w":45,"d":"D2"},{"y":2016,"w":46,"d":"D2"},{"y":2016,"w":47,"d":"D2"},{"y":2016,"w":48,"d":"D1"},{"y":2016,"w":49,"d":"D1"},{"y":2016,"w":50,"d":"D1"},{"y":2016,"w":51,"d":"D1"},{"y":2016,"w":52,"d":"D1"},
{"y":2017,"w":0,"d":"NONE"},{"y":2017,"w":1,"d":"D0"},{"y":2017,"w":2,"d":"D0"},{"y":2017,"w":3,"d":"D0"},{"y":2017,"w":4,"d":"NONE"},{"y":2017,"w":5,"d":"NONE"},{"y":2017,"w":6,"d":"NONE"},{"y":2017,"w":7,"d":"NONE"},{"y":2017,"w":8,"d":"NONE"},{"y":2017,"w":9,"d":"D0"},{"y":2017,"w":10,"d":"D0"},{"y":2017,"w":11,"d":"D0"},{"y":2017,"w":12,"d":"D0"},{"y":2017,"w":13,"d":"D0"},{"y":2017,"w":14,"d":"D0"},{"y":2017,"w":15,"d":"D0"},{"y":2017,"w":16,"d":"D0"},{"y":2017,"w":17,"d":"D0"},{"y":2017,"w":18,"d":"NONE"},{"y":2017,"w":19,"d":"D0"},{"y":2017,"w":20,"d":"NONE"},{"y":2017,"w":21,"d":"NONE"},{"y":2017,"w":22,"d":"NONE"},{"y":2017,"w":23,"d":"NONE"},{"y":2017,"w":24,"d":"NONE"},{"y":2017,"w":25,"d":"NONE"},{"y":2017,"w":26,"d":"NONE"},{"y":2017,"w":27,"d":"NONE"},{"y":2017,"w":28,"d":"NONE"},{"y":2017,"w":29,"d":"NONE"},{"y":2017,"w":30,"d":"NONE"},{"y":2017,"w":31,"d":"NONE"},{"y":2017,"w":32,"d":"NONE"},{"y":2017,"w":33,"d":"NONE"},{"y":2017,"w":34,"d":"NONE"},{"y":2017,"w":35,"d":"NONE"},{"y":2017,"w":36,"d":"NONE"},{"y":2017,"w":37,"d":"NONE"},{"y":2017,"w":38,"d":"NONE"},{"y":2017,"w":39,"d":"D0"},{"y":2017,"w":40,"d":"D0"},{"y":2017,"w":41,"d":"D1"},{"y":2017,"w":42,"d":"D1"},{"y":2017,"w":43,"d":"D1"},{"y":2017,"w":44,"d":"D1"},{"y":2017,"w":45,"d":"D1"},{"y":2017,"w":46,"d":"D1"},{"y":2017,"w":47,"d":"D1"},{"y":2017,"w":48,"d":"D2"},{"y":2017,"w":49,"d":"D2"},{"y":2017,"w":50,"d":"D2"},{"y":2017,"w":51,"d":"D1"},{"y":2017,"w":52,"d":"D0"},
{"y":2018,"w":0,"d":"D0"},{"y":2018,"w":1,"d":"D0"},{"y":2018,"w":2,"d":"D0"},{"y":2018,"w":3,"d":"D0"},{"y":2018,"w":4,"d":"D0"},{"y":2018,"w":5,"d":"D0"},{"y":2018,"w":6,"d":"NONE"},{"y":2018,"w":7,"d":"NONE"},{"y":2018,"w":8,"d":"NONE"},{"y":2018,"w":9,"d":"NONE"},{"y":2018,"w":10,"d":"NONE"},{"y":2018,"w":11,"d":"NONE"},{"y":2018,"w":12,"d":"NONE"},{"y":2018,"w":13,"d":"NONE"},{"y":2018,"w":14,"d":"NONE"},{"y":2018,"w":15,"d":"NONE"},{"y":2018,"w":16,"d":"NONE"},{"y":2018,"w":17,"d":"NONE"},{"y":2018,"w":18,"d":"NONE"},{"y":2018,"w":19,"d":"NONE"},{"y":2018,"w":20,"d":"NONE"},{"y":2018,"w":21,"d":"D0"},{"y":2018,"w":22,"d":"D1"},{"y":2018,"w":23,"d":"D1"},{"y":2018,"w":24,"d":"D1"},{"y":2018,"w":25,"d":"D2"},{"y":2018,"w":26,"d":"D2"},{"y":2018,"w":27,"d":"D2"},{"y":2018,"w":28,"d":"D1"},{"y":2018,"w":29,"d":"D1"},{"y":2018,"w":30,"d":"D2"},{"y":2018,"w":31,"d":"D3"},{"y":2018,"w":32,"d":"D2"},{"y":2018,"w":33,"d":"D2"},{"y":2018,"w":34,"d":"D3"},{"y":2018,"w":35,"d":"D2"},{"y":2018,"w":36,"d":"D2"},{"y":2018,"w":37,"d":"D2"},{"y":2018,"w":38,"d":"D0"},{"y":2018,"w":39,"d":"D0"},{"y":2018,"w":40,"d":"D0"},{"y":2018,"w":41,"d":"NONE"},{"y":2018,"w":42,"d":"NONE"},{"y":2018,"w":43,"d":"NONE"},{"y":2018,"w":44,"d":"NONE"},{"y":2018,"w":45,"d":"NONE"},{"y":2018,"w":46,"d":"NONE"},{"y":2018,"w":47,"d":"NONE"},{"y":2018,"w":48,"d":"NONE"},{"y":2018,"w":49,"d":"NONE"},{"y":2018,"w":50,"d":"NONE"},{"y":2018,"w":51,"d":"NONE"},{"y":2018,"w":52,"d":"NONE"},
{"y":2019,"w":0,"d":"NONE"},{"y":2019,"w":1,"d":"NONE"},{"y":2019,"w":2,"d":"NONE"},{"y":2019,"w":3,"d":"NONE"},{"y":2019,"w":4,"d":"NONE"},{"y":2019,"w":5,"d":"NONE"},{"y":2019,"w":6,"d":"NONE"},{"y":2019,"w":7,"d":"NONE"},{"y":2019,"w":8,"d":"NONE"},{"y":2019,"w":9,"d":"NONE"},{"y":2019,"w":10,"d":"NONE"},{"y":2019,"w":11,"d":"NONE"},{"y":2019,"w":12,"d":"NONE"},{"y":2019,"w":13,"d":"NONE"},{"y":2019,"w":14,"d":"NONE"},{"y":2019,"w":15,"d":"NONE"},{"y":2019,"w":16,"d":"NONE"},{"y":2019,"w":17,"d":"NONE"},{"y":2019,"w":18,"d":"NONE"},{"y":2019,"w":19,"d":"NONE"},{"y":2019,"w":20,"d":"NONE"},{"y":2019,"w":21,"d":"NONE"},{"y":2019,"w":22,"d":"NONE"},{"y":2019,"w":23,"d":"NONE"},{"y":2019,"w":24,"d":"NONE"},{"y":2019,"w":25,"d":"NONE"},{"y":2019,"w":26,"d":"NONE"},{"y":2019,"w":27,"d":"NONE"},{"y":2019,"w":28,"d":"NONE"},{"y":2019,"w":29,"d":"NONE"},{"y":2019,"w":30,"d":"NONE"},{"y":2019,"w":31,"d":"NONE"},{"y":2019,"w":32,"d":"NONE"},{"y":2019,"w":33,"d":"D0"},{"y":2019,"w":34,"d":"D0"},{"y":2019,"w":35,"d":"D1"},{"y":2019,"w":36,"d":"D2"},{"y":2019,"w":37,"d":"D2"},{"y":2019,"w":38,"d":"D1"},{"y":2019,"w":39,"d":"D1"},{"y":2019,"w":40,"d":"D1"},{"y":2019,"w":41,"d":"D1"},{"y":2019,"w":42,"d":"D1"},{"y":2019,"w":43,"d":"D0"},{"y":2019,"w":44,"d":"D0"},{"y":2019,"w":45,"d":"D0"},{"y":2019,"w":46,"d":"D1"},{"y":2019,"w":47,"d":"D1"},{"y":2019,"w":48,"d":"D1"},{"y":2019,"w":49,"d":"D1"},{"y":2019,"w":50,"d":"D2"},{"y":2019,"w":51,"d":"D2"},{"y":2019,"w":52,"d":"D2"},
{"y":2020,"w":0,"d":"NONE"},{"y":2020,"w":1,"d":"D2"},{"y":2020,"w":2,"d":"D2"},{"y":2020,"w":3,"d":"D2"},{"y":2020,"w":4,"d":"D1"},{"y":2020,"w":5,"d":"D1"},{"y":2020,"w":6,"d":"D0"},{"y":2020,"w":7,"d":"NONE"},{"y":2020,"w":8,"d":"NONE"},{"y":2020,"w":9,"d":"NONE"},{"y":2020,"w":10,"d":"NONE"},{"y":2020,"w":11,"d":"NONE"},{"y":2020,"w":12,"d":"NONE"},{"y":2020,"w":13,"d":"NONE"},{"y":2020,"w":14,"d":"NONE"},{"y":2020,"w":15,"d":"NONE"},{"y":2020,"w":16,"d":"NONE"},{"y":2020,"w":17,"d":"NONE"},{"y":2020,"w":18,"d":"NONE"},{"y":2020,"w":19,"d":"NONE"},{"y":2020,"w":20,"d":"NONE"},{"y":2020,"w":21,"d":"NONE"},{"y":2020,"w":22,"d":"NONE"},{"y":2020,"w":23,"d":"NONE"},{"y":2020,"w":24,"d":"NONE"},{"y":2020,"w":25,"d":"D0"},{"y":2020,"w":26,"d":"D0"},{"y":2020,"w":27,"d":"NONE"},{"y":2020,"w":28,"d":"NONE"},{"y":2020,"w":29,"d":"NONE"},{"y":2020,"w":30,"d":"NONE"},{"y":2020,"w":31,"d":"NONE"},{"y":2020,"w":32,"d":"NONE"},{"y":2020,"w":33,"d":"NONE"},{"y":2020,"w":34,"d":"NONE"},{"y":2020,"w":35,"d":"NONE"},{"y":2020,"w":36,"d":"NONE"},{"y":2020,"w":37,"d":"NONE"},{"y":2020,"w":38,"d":"NONE"},{"y":2020,"w":39,"d":"NONE"},{"y":2020,"w":40,"d":"NONE"},{"y":2020,"w":41,"d":"NONE"},{"y":2020,"w":42,"d":"NONE"},{"y":2020,"w":43,"d":"NONE"},{"y":2020,"w":44,"d":"NONE"},{"y":2020,"w":45,"d":"NONE"},{"y":2020,"w":46,"d":"D0"},{"y":2020,"w":47,"d":"D1"},{"y":2020,"w":48,"d":"D1"},{"y":2020,"w":49,"d":"D1"},{"y":2020,"w":50,"d":"D1"},{"y":2020,"w":51,"d":"D1"},{"y":2020,"w":52,"d":"D1"},
{"y":2021,"w":0,"d":"NONE"},{"y":2021,"w":1,"d":"D0"},{"y":2021,"w":2,"d":"NONE"},{"y":2021,"w":3,"d":"NONE"},{"y":2021,"w":4,"d":"NONE"},{"y":2021,"w":5,"d":"NONE"},{"y":2021,"w":6,"d":"NONE"},{"y":2021,"w":7,"d":"NONE"},{"y":2021,"w":8,"d":"NONE"},{"y":2021,"w":9,"d":"NONE"},{"y":2021,"w":10,"d":"NONE"},{"y":2021,"w":11,"d":"NONE"},{"y":2021,"w":12,"d":"NONE"},{"y":2021,"w":13,"d":"NONE"},{"y":2021,"w":14,"d":"NONE"},{"y":2021,"w":15,"d":"NONE"},{"y":2021,"w":16,"d":"NONE"},{"y":2021,"w":17,"d":"NONE"},{"y":2021,"w":18,"d":"NONE"},{"y":2021,"w":19,"d":"NONE"},{"y":2021,"w":20,"d":"NONE"},{"y":2021,"w":21,"d":"NONE"},{"y":2021,"w":22,"d":"NONE"},{"y":2021,"w":23,"d":"NONE"},{"y":2021,"w":24,"d":"NONE"},{"y":2021,"w":25,"d":"NONE"},{"y":2021,"w":26,"d":"NONE"},{"y":2021,"w":27,"d":"NONE"},{"y":2021,"w":28,"d":"NONE"},{"y":2021,"w":29,"d":"NONE"},{"y":2021,"w":30,"d":"NONE"},{"y":2021,"w":31,"d":"NONE"},{"y":2021,"w":32,"d":"NONE"},{"y":2021,"w":33,"d":"NONE"},{"y":2021,"w":34,"d":"NONE"},{"y":2021,"w":35,"d":"NONE"},{"y":2021,"w":36,"d":"NONE"},{"y":2021,"w":37,"d":"NONE"},{"y":2021,"w":38,"d":"NONE"},{"y":2021,"w":39,"d":"D0"},{"y":2021,"w":40,"d":"D0"},{"y":2021,"w":41,"d":"D0"},{"y":2021,"w":42,"d":"D0"},{"y":2021,"w":43,"d":"D1"},{"y":2021,"w":44,"d":"D2"},{"y":2021,"w":45,"d":"D2"},{"y":2021,"w":46,"d":"D2"},{"y":2021,"w":47,"d":"D2"},{"y":2021,"w":48,"d":"D1"},{"y":2021,"w":49,"d":"D1"},{"y":2021,"w":50,"d":"D1"},{"y":2021,"w":51,"d":"D1"},{"y":2021,"w":52,"d":"D1"},
{"y":2022,"w":0,"d":"NONE"},{"y":2022,"w":1,"d":"D2"},{"y":2022,"w":2,"d":"D2"},{"y":2022,"w":3,"d":"D3"},{"y":2022,"w":4,"d":"D3"},{"y":2022,"w":5,"d":"D3"},{"y":2022,"w":6,"d":"D2"},{"y":2022,"w":7,"d":"D2"},{"y":2022,"w":8,"d":"D2"},{"y":2022,"w":9,"d":"D2"},{"y":2022,"w":10,"d":"D2"},{"y":2022,"w":11,"d":"D2"},{"y":2022,"w":12,"d":"D1"},{"y":2022,"w":13,"d":"D1"},{"y":2022,"w":14,"d":"D0"},{"y":2022,"w":15,"d":"D0"},{"y":2022,"w":16,"d":"D0"},{"y":2022,"w":17,"d":"D0"},{"y":2022,"w":18,"d":"D0"},{"y":2022,"w":19,"d":"NONE"},{"y":2022,"w":20,"d":"NONE"},{"y":2022,"w":21,"d":"NONE"},{"y":2022,"w":22,"d":"NONE"},{"y":2022,"w":23,"d":"D0"},{"y":2022,"w":24,"d":"D1"},{"y":2022,"w":25,"d":"D1"},{"y":2022,"w":26,"d":"D1"},{"y":2022,"w":27,"d":"D2"},{"y":2022,"w":28,"d":"D3"},{"y":2022,"w":29,"d":"D3"},{"y":2022,"w":30,"d":"D3"},{"y":2022,"w":31,"d":"D3"},{"y":2022,"w":32,"d":"D3"},{"y":2022,"w":33,"d":"D3"},{"y":2022,"w":34,"d":"D1"},{"y":2022,"w":35,"d":"D0"},{"y":2022,"w":36,"d":"NONE"},{"y":2022,"w":37,"d":"NONE"},{"y":2022,"w":38,"d":"NONE"},{"y":2022,"w":39,"d":"D0"},{"y":2022,"w":40,"d":"D0"},{"y":2022,"w":41,"d":"D1"},{"y":2022,"w":42,"d":"D1"},{"y":2022,"w":43,"d":"D1"},{"y":2022,"w":44,"d":"D0"},{"y":2022,"w":45,"d":"D0"},{"y":2022,"w":46,"d":"D0"},{"y":2022,"w":47,"d":"D0"},{"y":2022,"w":48,"d":"NONE"},{"y":2022,"w":49,"d":"NONE"},{"y":2022,"w":50,"d":"D0"},{"y":2022,"w":51,"d":"D0"},{"y":2022,"w":52,"d":"D0"},
{"y":2023,"w":0,"d":"NONE"},{"y":2023,"w":1,"d":"NONE"},{"y":2023,"w":2,"d":"NONE"},{"y":2023,"w":3,"d":"NONE"},{"y":2023,"w":4,"d":"NONE"},{"y":2023,"w":5,"d":"NONE"},{"y":2023,"w":6,"d":"NONE"},{"y":2023,"w":7,"d":"NONE"},{"y":2023,"w":8,"d":"NONE"},{"y":2023,"w":9,"d":"NONE"},{"y":2023,"w":10,"d":"NONE"},{"y":2023,"w":11,"d":"NONE"},{"y":2023,"w":12,"d":"NONE"},{"y":2023,"w":13,"d":"NONE"},{"y":2023,"w":14,"d":"NONE"},{"y":2023,"w":15,"d":"NONE"},{"y":2023,"w":16,"d":"NONE"},{"y":2023,"w":17,"d":"NONE"},{"y":2023,"w":18,"d":"NONE"},{"y":2023,"w":19,"d":"NONE"},{"y":2023,"w":20,"d":"NONE"},{"y":2023,"w":21,"d":"NONE"},{"y":2023,"w":22,"d":"NONE"},{"y":2023,"w":23,"d":"NONE"},{"y":2023,"w":24,"d":"NONE"},{"y":2023,"w":25,"d":"NONE"},{"y":2023,"w":26,"d":"NONE"},{"y":2023,"w":27,"d":"NONE"},{"y":2023,"w":28,"d":"NONE"},{"y":2023,"w":29,"d":"NONE"},{"y":2023,"w":30,"d":"D0"},{"y":2023,"w":31,"d":"D0"},{"y":2023,"w":32,"d":"D0"},{"y":2023,"w":33,"d":"D0"},{"y":2023,"w":34,"d":"D1"},{"y":2023,"w":35,"d":"D2"},{"y":2023,"w":36,"d":"D2"},{"y":2023,"w":37,"d":"D2"},{"y":2023,"w":38,"d":"D2"},{"y":2023,"w":39,"d":"D2"},{"y":2023,"w":40,"d":"D2"},{"y":2023,"w":41,"d":"D1"},{"y":2023,"w":42,"d":"D1"},{"y":2023,"w":43,"d":"D1"},{"y":2023,"w":44,"d":"D0"},{"y":2023,"w":45,"d":"D0"},{"y":2023,"w":46,"d":"D0"},{"y":2023,"w":47,"d":"D0"},{"y":2023,"w":48,"d":"D0"},{"y":2023,"w":49,"d":"D0"},{"y":2023,"w":50,"d":"D0"},{"y":2023,"w":51,"d":"D1"},{"y":2023,"w":52,"d":"D1"},
{"y":2024,"w":0,"d":"D1"},{"y":2024,"w":1,"d":"D1"},{"y":2024,"w":2,"d":"D1"},{"y":2024,"w":3,"d":"D0"},{"y":2024,"w":4,"d":"NONE"},{"y":2024,"w":5,"d":"NONE"},{"y":2024,"w":6,"d":"NONE"},{"y":2024,"w":7,"d":"NONE"},{"y":2024,"w":8,"d":"NONE"},{"y":2024,"w":9,"d":"NONE"},{"y":2024,"w":10,"d":"NONE"},{"y":2024,"w":11,"d":"NONE"},{"y":2024,"w":12,"d":"NONE"},{"y":2024,"w":13,"d":"NONE"},{"y":2024,"w":14,"d":"NONE"},{"y":2024,"w":15,"d":"NONE"},{"y":2024,"w":16,"d":"NONE"},{"y":2024,"w":17,"d":"NONE"},{"y":2024,"w":18,"d":"NONE"},{"y":2024,"w":19,"d":"NONE"},{"y":2024,"w":20,"d":"NONE"},{"y":2024,"w":21,"d":"NONE"},{"y":2024,"w":22,"d":"NONE"},{"y":2024,"w":23,"d":"NONE"},{"y":2024,"w":24,"d":"NONE"},{"y":2024,"w":25,"d":"NONE"},{"y":2024,"w":26,"d":"NONE"},{"y":2024,"w":27,"d":"NONE"},{"y":2024,"w":28,"d":"NONE"},{"y":2024,"w":29,"d":"NONE"},{"y":2024,"w":30,"d":"NONE"},{"y":2024,"w":31,"d":"NONE"},{"y":2024,"w":32,"d":"NONE"},{"y":2024,"w":33,"d":"D0"},{"y":2024,"w":34,"d":"D0"},{"y":2024,"w":35,"d":"D1"},{"y":2024,"w":36,"d":"D1"},{"y":2024,"w":37,"d":"D1"},{"y":2024,"w":38,"d":"D1"},{"y":2024,"w":39,"d":"D1"},{"y":2024,"w":40,"d":"D1"},{"y":2024,"w":41,"d":"D1"},{"y":2024,"w":42,"d":"D1"},{"y":2024,"w":43,"d":"D2"},{"y":2024,"w":44,"d":"D1"},{"y":2024,"w":45,"d":"D1"},{"y":2024,"w":46,"d":"D1"},{"y":2024,"w":47,"d":"D1"},{"y":2024,"w":48,"d":"D1"},{"y":2024,"w":49,"d":"D0"},{"y":2024,"w":50,"d":"D0"},{"y":2024,"w":51,"d":"D0"},{"y":2024,"w":52,"d":"NONE"},
{"y":2025,"w":0,"d":"NONE"},{"y":2025,"w":1,"d":"NONE"},{"y":2025,"w":2,"d":"NONE"},{"y":2025,"w":3,"d":"NONE"},{"y":2025,"w":4,"d":"NONE"},{"y":2025,"w":5,"d":"NONE"},{"y":2025,"w":6,"d":"NONE"},{"y":2025,"w":7,"d":"NONE"},{"y":2025,"w":8,"d":"NONE"},{"y":2025,"w":9,"d":"NONE"},{"y":2025,"w":10,"d":"NONE"},{"y":2025,"w":11,"d":"NONE"},{"y":2025,"w":12,"d":"NONE"},{"y":2025,"w":13,"d":"NONE"},{"y":2025,"w":14,"d":"NONE"},{"y":2025,"w":15,"d":"NONE"},{"y":2025,"w":16,"d":"D0"},{"y":2025,"w":17,"d":"NONE"},{"y":2025,"w":18,"d":"NONE"},{"y":2025,"w":19,"d":"NONE"},{"y":2025,"w":20,"d":"NONE"},{"y":2025,"w":21,"d":"NONE"},{"y":2025,"w":22,"d":"NONE"},{"y":2025,"w":23,"d":"NONE"},{"y":2025,"w":24,"d":"NONE"},{"y":2025,"w":25,"d":"NONE"},{"y":2025,"w":26,"d":"NONE"},{"y":2025,"w":27,"d":"NONE"},{"y":2025,"w":28,"d":"NONE"},{"y":2025,"w":29,"d":"NONE"},{"y":2025,"w":30,"d":"NONE"},{"y":2025,"w":31,"d":"NONE"},{"y":2025,"w":32,"d":"NONE"},{"y":2025,"w":33,"d":"D0"},{"y":2025,"w":34,"d":"D0"},{"y":2025,"w":35,"d":"NONE"},{"y":2025,"w":36,"d":"NONE"},{"y":2025,"w":37,"d":"NONE"},{"y":2025,"w":38,"d":"NONE"},{"y":2025,"w":39,"d":"NONE"},{"y":2025,"w":40,"d":"NONE"},{"y":2025,"w":41,"d":"D0"},{"y":2025,"w":42,"d":"D0"},{"y":2025,"w":43,"d":"D0"},{"y":2025,"w":44,"d":"D1"},{"y":2025,"w":45,"d":"D1"},{"y":2025,"w":46,"d":"D1"},{"y":2025,"w":47,"d":"D1"},{"y":2025,"w":48,"d":"D0"},{"y":2025,"w":49,"d":"D0"},{"y":2025,"w":50,"d":"D0"},{"y":2025,"w":51,"d":"D0"},{"y":2025,"w":52,"d":"D0"},
{"y":2026,"w":0,"d":"NONE"},{"y":2026,"w":1,"d":"D0"},{"y":2026,"w":2,"d":"D1"},{"y":2026,"w":3,"d":"D1"},{"y":2026,"w":4,"d":"D1"},{"y":2026,"w":5,"d":"D1"},{"y":2026,"w":6,"d":"D1"},{"y":2026,"w":7,"d":"D1"},{"y":2026,"w":8,"d":"D1"},{"y":2026,"w":9,"d":"D1"},{"y":2026,"w":10,"d":"D1"},{"y":2026,"w":11,"d":"D1"},{"y":2026,"w":12,"d":"D2"},{"y":2026,"w":13,"d":"D2"},{"y":2026,"w":14,"d":"D2"},{"y":2026,"w":15,"d":"D2"},{"y":2026,"w":16,"d":"D2"},{"y":2026,"w":17,"d":"D2"},{"y":2026,"w":18,"d":"D2"},{"y":2026,"w":19,"d":"D2"},{"y":2026,"w":20,"d":"D2"},{"y":2026,"w":21,"d":"D2"},{"y":2026,"w":22,"d":"D2"},{"y":2026,"w":23,"d":"D2"},{"y":2026,"w":24,"d":"D2"},{"y":2026,"w":25,"d":"D1"},{"y":2026,"w":26,"d":"D1"},{"y":2026,"w":27,"d":"D1"},{"y":2026,"w":28,"d":"D1"},{"y":2026,"w":29,"d":"D0"},{"y":2026,"w":30,"d":"D0"},{"y":2026,"w":31,"d":"D0"},{"y":2026,"w":32,"d":"D0"},{"y":2026,"w":33,"d":"NONE"},{"y":2026,"w":34,"d":"NONE"},{"y":2026,"w":35,"d":"NONE"},{"y":2026,"w":36,"d":"NONE"},{"y":2026,"w":37,"d":"NONE"},{"y":2026,"w":38,"d":"NONE"},{"y":2026,"w":39,"d":"NONE"},{"y":2026,"w":40,"d":"NONE"},{"y":2026,"w":41,"d":"NONE"},{"y":2026,"w":42,"d":"NONE"},{"y":2026,"w":43,"d":"NONE"},{"y":2026,"w":44,"d":"NONE"},{"y":2026,"w":45,"d":"NONE"},{"y":2026,"w":46,"d":"NONE"},{"y":2026,"w":47,"d":"NONE"},{"y":2026,"w":48,"d":"NONE"},{"y":2026,"w":49,"d":"NONE"},{"y":2026,"w":50,"d":"NONE"},{"y":2026,"w":51,"d":"NONE"},{"y":2026,"w":52,"d":"NONE"}
]},
"mark": {"type": "rect"},
"encoding": {
  "x": {"field": "w", "type": "ordinal",
    "scale": {"range": [201, 3400], "paddingInner": 0.16, "paddingOuter": 0},
    "axis": {"orient": "top", "offset": -270, "values": [0,4,8,13,17,21,26,30,34,39,43,47], "bandPosition": 0,
      "labelExpr": "['JAN','FEB','MAR','APR','MAY','JUN','JUL','AUG','SEP','OCT','NOV','DEC'][indexof([0,4,8,13,17,21,26,30,34,39,43,47], +datum.value)]",
      "labelAlign": "left", "labelBaseline": "alphabetic", "labelOffset": -37, "labelPadding": 0, "labelAngle": 0, "labelOverlap": false,
      "ticks": false, "tickSize": 0, "domain": false, "grid": false,
      "labelFont": "Open Sans", "labelFontSize": 40, "labelFontWeight": 600, "labelColor": "#dcc9a0",
      "title": "driestsince.com  · U.S. Drought Monitor ·NDMC / NOAA / USDA", "titleX": 164, "titleY": 875, "titleAlign": "left", "titleAnchor": "start", "titleBaseline": "alphabetic", "titleAngle": 0,
      "titleFont": "Open Sans", "titleFontSize": 37, "titleFontWeight": 400, "titleColor": "#dcc9a0"}},
  "y": {"field": "y", "type": "ordinal",
    "scale": {"range": [301, 1113], "paddingInner": 0.24, "paddingOuter": 0},
    "axis": {"orient": "left", "offset": -157, "ticks": false, "tickSize": 0, "domain": false, "grid": false, "labelPadding": 5,
      "labelFont": "DejaVu Sans", "labelFontSize": 39, "labelFontWeight": "normal", "labelColor": "#dcc9a0", "labelBaseline": "middle", "labelAlign": "right",
      "title": "driestsince.com", "titleX": 3248, "titleY": 1148, "titleAngle": 0, "titleAlign": "right", "titleBaseline": "alphabetic",
      "titleFont": "Open Sans", "titleFontSize": 44, "titleFontWeight": 700, "titleColor": "#f2c350"}},
  "color": {"field": "d", "type": "nominal",
    "scale": {"domain": ["NONE","D0","D1","D2","D3","D4"], "range": ["#483a21","#ffff00","#fdd481","#ffaa00","#e60000","#730000"]},
    "legend": {"orient": "none", "legendX": 2290, "legendY": 48, "direction": "horizontal", "title": null,
      "symbolType": "M-1,-0.54H1V0.54H-1Z", "symbolSize": 5476, "symbolStrokeColor": "#21180b", "symbolStrokeWidth": 4, "symbolOpacity": 1,
      "labelFont": "Open Sans", "labelFontSize": 40, "labelFontWeight": 700, "labelColor": "#fbf3e2", "labelOffset": 16, "columnPadding": 39, "padding": 0}}
}
}
